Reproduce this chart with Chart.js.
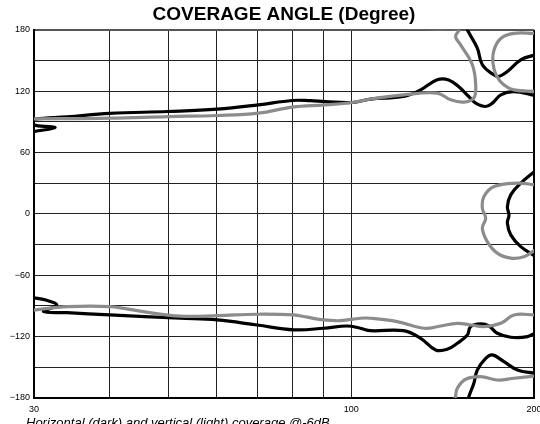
<!DOCTYPE html>
<html>
<head>
<meta charset="utf-8">
<title>Coverage angle</title>
<script src="https://cdn.jsdelivr.net/npm/chart.js@4/dist/chart.umd.min.js"></script>
<style>
  html, body { margin: 0; padding: 0; background: #fff; }
  #wrap { width: 540px; height: 424px; }
</style>
</head>
<body>
<div id="wrap"><canvas id="chart" width="540" height="424"></canvas></div>
<script>
// Frequency grid (log axis) and labelled ticks
const freqGrid = [30, 40, 50, 60, 70, 80, 90, 100, 200];
const freqLabels = [30, 100, 200];
// Angle axis: grid every 30 degrees, labels every 60
const angleRange = [-180, 180];
const angleGridStep = 30;
const angleLabelStep = 60;

// Horizontal coverage (dark), points as [frequency, angle]
const horizUpper = [
  [30, 80.5], [32.5, 84.4], [30.2, 86.5], [29.5, 90], [30.1, 92.6], [34, 94.8],
  [40, 98.3], [49.9, 100.1], [60.1, 102.4], [70.3, 106.6], [79.9, 110.9],
  [85.6, 110.7], [90.6, 109.8], [100.3, 108.9], [107.6, 112.3], [121.9, 114.8],
  [130.1, 121.3], [138.5, 131.1], [144.7, 131], [150.2, 124.5], [156.1, 114.8],
  [160.3, 108.3], [166.5, 105], [170.8, 108.3], [176.3, 116.4], [185.2, 119.6],
  [201, 115.7]
];
const horizTop = [
  [154.5, 185], [155.3, 180], [161.3, 162.1], [164.4, 145.8], [171.6, 136],
  [174.9, 134.3], [180.8, 139.2], [190.2, 150.7], [201, 155.5]
];
const horizMid = [
  [201, 42], [190.2, 30], [183.1, 18.6], [180.8, 7.1], [181.9, -1],
  [180.8, -9.1], [183.1, -20.5], [190.2, -32], [201, -41.5]
];
const horizLower = [
  [29.5, -81.5], [31.5, -84.5], [32.7, -89.3], [31.1, -95.4], [34, -96.6],
  [40, -98.8], [52.2, -102], [60.1, -103.7], [69.9, -108.6], [80.4, -113.3],
  [90.1, -111.8], [98.4, -109.6], [103.5, -111.8], [107.6, -114.2],
  [121.9, -114.2], [130.1, -121.6], [137.7, -133], [143.9, -132.4],
  [149.5, -126.5], [155.3, -118.4], [157.3, -110.2], [163.3, -107.6],
  [168.6, -109.6], [174, -116.7], [183.1, -120.6], [195.1, -120], [201, -116.2]
];
const horizBottom = [
  [155.5, -184], [156.2, -178.7], [159.2, -165.6], [161.3, -152.6],
  [166.5, -141.2], [170.8, -137.9], [178.5, -144.5], [187.8, -152.6],
  [201, -156]
];

// Vertical coverage (light), points as [frequency, angle]
const vertUpper = [
  [30, 93], [40, 93.6], [49.9, 95.2], [60.1, 96.2], [70.3, 98.5], [79.9, 104.4],
  [90.6, 106.6], [100.3, 108.9], [107.6, 112.3], [121.9, 116.4], [138.5, 118.1],
  [145.8, 111.5], [153.1, 109.3], [159.1, 113.2], [160.3, 126.2], [158.3, 145.8],
  [151.4, 165.3], [148.5, 173.4], [150.2, 180], [140, 181], [125, 181.6],
  [110, 182.6], [100, 184]
];
const vertTop = [
  [201, 176.5], [185.2, 176.5], [176.3, 171.5], [171.8, 160], [171.2, 147],
  [173.5, 135], [178.3, 126.2], [185.2, 121.3], [201, 119.7]
];
const vertMid = [
  [201, 28.4], [187.8, 30], [171.8, 26.7], [165.4, 16.9], [164.4, 5.6],
  [166.5, -4.2], [164.4, -14], [167.5, -27.1], [174, -38.4], [183.1, -43.3],
  [192.5, -41.8], [201, -35.2]
];
const vertLower = [
  [30, -94], [34, -90.7], [40, -90.7], [45.4, -95.6], [52.2, -100], [60.1, -99.5],
  [69.9, -98.1], [80.4, -98.8], [84.6, -101], [90.1, -103.7], [96, -104.4],
  [103.5, -102], [107.6, -102], [119, -105.3], [131.7, -111.8], [140.3, -109.6],
  [149.5, -107], [157.3, -108.6], [165.4, -110.2], [176.3, -107], [185.4, -98.8],
  [201, -98.8]
];
const vertBottom = [
  [148, -184], [148.5, -178.7], [149.5, -170.5], [154.3, -161.7], [163.3, -159.1],
  [174, -162.4], [185.4, -160.7], [201, -158.5]
];

const DARK = '#000000';
const LIGHT = '#8c8c8c';
const FONT = '"Liberation Sans", Arial, Helvetica, sans-serif';

function curve(points, color, order) {
  return {
    data: points.map(([x, y]) => ({ x, y })),
    showLine: true,
    borderColor: color,
    backgroundColor: color,
    borderWidth: 3.2,
    borderJoinStyle: 'round',
    borderCapStyle: 'round',
    tension: 0.4,
    pointRadius: 0,
    pointHoverRadius: 0,
    order
  };
}

const datasets = [
  ...[vertUpper, vertTop, vertMid, vertLower, vertBottom].map(p => curve(p, LIGHT, 1)),
  ...[horizUpper, horizTop, horizMid, horizLower, horizBottom].map(p => curve(p, DARK, 2))
];

function angleText(v) {
  return v < 0 ? '\u2212' + Math.abs(v) : String(v);
}

// Caption under the axis
const captionPlugin = {
  id: 'caption',
  afterDraw(chart) {
    const ctx = chart.ctx;
    ctx.save();
    ctx.font = 'italic 13px ' + FONT;
    ctx.fillStyle = '#000';
    ctx.textAlign = 'left';
    ctx.textBaseline = 'alphabetic';
    ctx.fillText('Horizontal (dark) and vertical (light) coverage @-6dB', 26, 427);
    ctx.restore();
  }
};

new Chart(document.getElementById('chart'), {
  type: 'scatter',
  data: { datasets },
  plugins: [captionPlugin],
  options: {
    responsive: false,
    animation: false,
    devicePixelRatio: 1,
    layout: { padding: { top: 0, right: 6, bottom: 0, left: 0 } },
    plugins: {
      legend: { display: false },
      tooltip: { enabled: false },
      title: {
        display: true,
        text: 'COVERAGE ANGLE (Degree)',
        color: '#000',
        fullSize: false,
        font: { family: FONT, size: 19, weight: 'bold' },
        padding: { top: 3, bottom: 4 }
      }
    },
    scales: {
      x: {
        type: 'logarithmic',
        min: freqGrid[0],
        max: freqGrid[freqGrid.length - 1],
        afterBuildTicks: s => { s.ticks = freqGrid.map(v => ({ value: v })); },
        afterFit: s => { s.height = 26; s.paddingLeft = 0; s.paddingRight = 0; },
        ticks: {
          autoSkip: false,
          maxRotation: 0,
          padding: 6,
          color: '#000',
          font: { family: FONT, size: 9 },
          callback: v => freqLabels.includes(v) ? String(v) : ''
        },
        grid: {
          drawTicks: false,
          color: ctx => (ctx.tick && ctx.tick.value === 200) ? '#000' : '#222',
          lineWidth: ctx => (ctx.tick && ctx.tick.value === 200) ? 2 : 1
        },
        border: { display: true, color: '#000', width: 2 }
      },
      y: {
        type: 'linear',
        min: angleRange[0],
        max: angleRange[1],
        afterFit: s => { s.width = 34; },
        ticks: {
          stepSize: angleGridStep,
          autoSkip: false,
          padding: 4,
          color: '#000',
          font: { family: FONT, size: 9 },
          callback: v => (v % angleLabelStep === 0) ? angleText(v) : ''
        },
        grid: {
          drawTicks: false,
          color: ctx => (ctx.tick && ctx.tick.value === 180) ? '#555' : '#222',
          lineWidth: ctx => (ctx.tick && ctx.tick.value === 180) ? 2 : 1
        },
        border: { display: true, color: '#000', width: 2 }
      }
    }
  }
});
</script>
</body>
</html>
